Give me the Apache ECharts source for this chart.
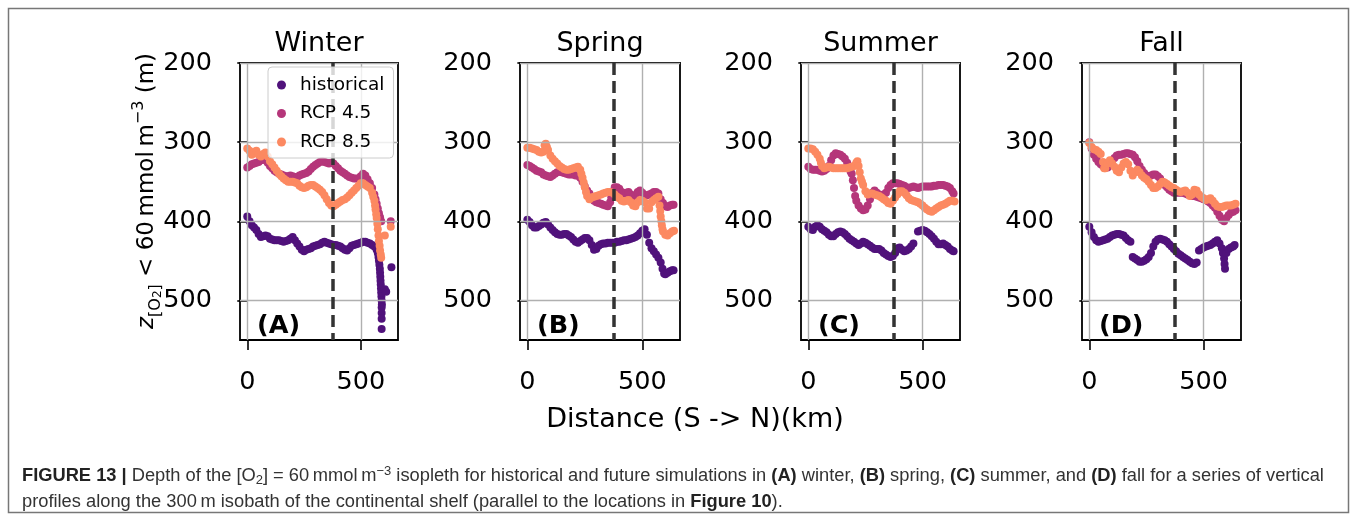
<!DOCTYPE html>
<html>
<head>
<meta charset="utf-8">
<script src="https://cdn.jsdelivr.net/npm/echarts@6/dist/echarts.min.js"></script>
<style>
  html, body { margin: 0; padding: 0; background: #fff; }
  #chart { width: 1357px; height: 521px; }
</style>
</head>
<body>
<div id="chart"></div>
<script>
// Seasons, scenarios and axis ticks
const seasons = ['Winter', 'Spring', 'Summer', 'Fall'];
const panelTags = ['(A)', '(B)', '(C)', '(D)'];
const scenarios = ['historical', 'RCP 4.5', 'RCP 8.5'];
const xTicks = [0, 500];
const yTicks = [200, 300, 400, 500];
const shelfMarkKm = 375;

// Depth (m) of the 60 mmol m-3 O2 isopleth vs. along-shelf distance (km): [distance, depth]
const winterHist = [[0,394],[10,400],[20,405],[30,408],[40,411],[50,416],[60,420],[70,419],[80,418],[90,419],[100,422],[110,423],[120,424],[130,424],[140,424],[150,425],[160,426],[170,425],[180,424],[190,422],[200,420],[210,424],[220,428],[230,432],[240,436],[250,438],[260,436],[270,435],[280,434],[290,432],[300,431],[310,430],[320,429],[330,427],[340,426],[350,427],[360,428],[370,429],[380,430],[390,430],[400,431],[410,432],[420,434],[430,436],[440,437],[450,434],[460,431],[470,430],[480,429],[490,428],[500,427],[510,426],[520,426],[530,427],[540,428],[550,430],[560,432],[570,436],[575,440],[578,445],[580,450],[582,455],[584,460],[585,465],[586,470],[587,475],[588,480],[589,485],[590,490],[591,495],[592,500],[593,505],[592,509],[592,516],[592,523],[592,536],[606,486],[612,489],[635,458]];
const winterRcp45 = [[0,332],[10,330],[20,328],[30,327],[40,326],[50,325],[60,323],[70,322],[80,323],[90,326],[100,330],[110,333],[120,336],[130,338],[140,340],[150,341],[160,342],[170,343],[180,343],[190,342],[200,343],[210,344],[220,344],[230,342],[240,341],[250,340],[260,339],[270,337],[280,334],[290,331],[300,329],[310,327],[320,325],[330,324],[340,325],[350,326],[360,327],[370,326],[380,327],[390,330],[400,333],[410,336],[420,338],[430,340],[440,342],[450,344],[460,345],[470,346],[480,346],[490,346],[500,343],[510,340],[520,342],[530,347],[540,352],[550,358],[560,366],[565,372],[570,378],[575,384],[580,390],[585,395],[590,400],[632,400]];
const winterRcp85 = [[0,308],[10,311],[20,316],[30,313],[40,311],[50,316],[60,318],[70,315],[80,313],[90,318],[100,324],[110,328],[120,332],[130,336],[140,340],[150,343],[160,346],[170,348],[180,350],[190,350],[200,350],[210,351],[220,352],[230,355],[240,357],[250,358],[260,357],[270,355],[280,354],[290,354],[300,356],[310,358],[320,360],[330,363],[340,367],[350,372],[360,377],[370,380],[380,381],[390,379],[400,377],[410,375],[420,373],[430,372],[440,370],[450,367],[460,364],[470,361],[480,358],[490,355],[500,352],[510,352],[520,354],[530,356],[540,358],[550,364],[555,369],[560,374],[563,380],[565,385],[568,391],[570,396],[573,403],[575,410],[578,418],[580,425],[583,431],[585,437],[588,442],[590,446],[606,418],[632,407]];

const springHist = [[0,398],[10,401],[20,405],[30,408],[40,408],[50,406],[60,404],[70,402],[80,401],[90,404],[100,408],[110,411],[120,414],[130,416],[140,417],[150,417],[160,416],[170,416],[180,418],[190,420],[200,423],[210,426],[220,427],[230,425],[240,423],[250,421],[260,421],[270,424],[280,430],[290,436],[300,435],[310,431],[320,429],[330,428],[340,428],[350,427],[360,427],[370,427],[380,427],[390,426],[400,426],[410,425],[420,424],[430,424],[440,423],[450,422],[460,421],[470,420],[480,418],[490,415],[500,412],[510,410],[520,417],[530,427],[540,434],[550,438],[560,442],[570,446],[580,452],[588,460],[595,466],[600,467],[610,465],[620,463],[630,462],[636,462]];
const springRcp45 = [[0,329],[10,330],[20,332],[30,334],[40,336],[50,337],[60,338],[70,341],[80,342],[90,343],[100,344],[110,342],[120,340],[130,338],[140,337],[150,338],[160,339],[170,340],[180,341],[190,341],[200,341],[210,342],[220,342],[230,345],[240,350],[250,356],[260,361],[270,365],[280,370],[290,374],[300,376],[310,377],[320,378],[330,379],[340,380],[350,381],[360,376],[365,370],[370,364],[380,357],[390,357],[400,359],[410,363],[420,365],[430,364],[440,363],[450,366],[460,369],[470,367],[480,363],[490,361],[500,364],[510,367],[520,367],[530,366],[540,365],[550,363],[560,363],[570,365],[580,372],[590,377],[600,381],[610,382],[620,380],[630,379],[636,379]];
const springRcp85 = [[0,307],[10,307],[20,308],[30,309],[40,310],[50,312],[60,313],[70,312],[75,304],[80,302],[85,306],[90,310],[100,317],[110,321],[120,324],[130,327],[140,330],[150,332],[160,334],[170,335],[180,335],[190,334],[200,333],[210,332],[220,331],[230,335],[235,340],[240,345],[245,351],[250,357],[255,363],[260,368],[270,372],[280,370],[290,369],[300,368],[310,367],[320,366],[330,365],[340,364],[350,363],[360,363],[370,364],[380,366],[390,369],[400,371],[410,374],[420,375],[430,374],[440,373],[450,376],[460,380],[470,381],[480,376],[490,373],[500,374],[510,376],[520,384],[530,384],[540,376],[550,373],[560,371],[570,369],[575,380],[578,387],[580,394],[583,400],[585,405],[588,410],[590,413],[600,417],[610,418],[620,415],[630,413],[638,412]];

const summerHist = [[0,407],[10,410],[20,411],[30,407],[40,405],[50,407],[60,410],[70,412],[80,414],[90,417],[100,419],[110,419],[120,416],[130,414],[140,413],[150,414],[160,416],[170,419],[180,422],[190,424],[200,426],[210,428],[220,430],[230,428],[240,426],[250,427],[260,429],[270,431],[280,433],[290,435],[300,435],[310,435],[320,437],[330,440],[340,442],[350,444],[360,445],[370,444],[380,440],[390,434],[400,433],[410,436],[420,438],[430,437],[440,435],[450,432],[460,428],[480,413],[490,412],[500,411],[510,412],[520,414],[530,416],[540,419],[550,422],[560,426],[570,429],[580,429],[590,428],[600,430],[610,432],[620,435],[630,437],[636,438]];
const summerRcp45 = [[0,331],[10,334],[20,335],[30,335],[40,335],[50,336],[60,337],[70,336],[80,334],[90,330],[100,323],[110,317],[120,314],[130,315],[140,316],[150,318],[160,321],[170,326],[180,333],[185,337],[190,340],[195,348],[200,358],[205,368],[210,374],[220,380],[230,384],[240,386],[250,385],[260,380],[270,372],[280,364],[290,361],[300,364],[310,366],[320,367],[330,366],[340,364],[350,358],[360,354],[370,352],[380,352],[390,352],[400,353],[410,354],[420,355],[430,357],[440,358],[450,357],[460,356],[470,357],[480,358],[490,357],[500,356],[510,356],[520,356],[530,356],[540,356],[550,355],[560,355],[570,354],[580,354],[590,354],[600,355],[610,356],[620,358],[630,362],[636,365]];
const summerRcp85 = [[0,308],[10,308],[20,309],[30,312],[40,316],[50,321],[55,326],[60,330],[70,333],[80,332],[90,331],[100,332],[110,333],[120,333],[130,333],[140,333],[150,333],[160,333],[170,333],[180,332],[190,331],[200,330],[210,326],[215,324],[220,330],[225,338],[230,346],[235,350],[240,354],[250,362],[260,366],[270,365],[280,365],[290,366],[300,367],[310,368],[320,370],[330,372],[340,374],[350,377],[360,378],[370,374],[380,370],[390,366],[400,362],[410,362],[420,364],[430,367],[440,371],[450,373],[460,374],[470,375],[480,376],[490,378],[500,380],[510,383],[520,385],[530,387],[540,388],[550,386],[560,384],[570,382],[580,380],[590,379],[600,378],[610,376],[620,374],[630,374],[640,375]];

const fallHist = [[0,407],[10,414],[20,420],[30,424],[40,426],[50,425],[60,424],[70,423],[80,422],[90,420],[100,418],[110,417],[120,416],[130,416],[140,417],[150,418],[160,421],[170,424],[180,426],[190,445],[200,447],[210,449],[220,451],[230,451],[240,450],[250,448],[260,445],[270,440],[280,432],[290,426],[300,423],[310,422],[320,423],[330,424],[340,426],[350,429],[360,432],[370,435],[380,438],[390,441],[400,443],[410,445],[420,447],[430,449],[440,451],[450,453],[460,454],[470,452],[480,437],[490,435],[500,433],[510,432],[520,431],[530,430],[540,428],[550,426],[560,424],[570,428],[580,434],[585,440],[590,447],[592,454],[594,460],[600,440],[610,435],[620,433],[630,432],[636,430]];
const fallRcp45 = [[0,300],[10,308],[20,316],[30,321],[40,325],[50,328],[60,330],[70,331],[80,332],[90,328],[100,324],[110,320],[120,317],[130,316],[140,316],[150,315],[160,314],[170,314],[180,315],[190,316],[200,319],[210,324],[220,330],[230,335],[240,339],[250,342],[260,343],[270,342],[280,341],[290,341],[300,343],[310,346],[320,350],[330,354],[340,357],[350,360],[360,362],[370,364],[380,364],[390,364],[400,364],[410,364],[420,365],[430,366],[440,367],[450,368],[460,368],[470,369],[480,370],[490,371],[500,372],[510,373],[520,375],[530,377],[540,380],[550,383],[560,388],[570,393],[580,398],[590,400],[600,396],[610,392],[620,389],[630,388],[640,386]];
const fallRcp85 = [[0,301],[10,306],[20,309],[30,310],[40,312],[50,315],[60,325],[65,333],[70,333],[80,327],[90,323],[100,327],[110,331],[120,336],[130,338],[140,332],[150,327],[160,325],[170,328],[180,336],[190,342],[200,338],[210,335],[220,338],[230,342],[240,345],[250,347],[260,350],[270,354],[280,358],[290,358],[300,356],[310,353],[320,350],[330,351],[340,353],[350,355],[360,357],[370,358],[380,360],[390,362],[400,363],[410,362],[420,361],[430,364],[440,368],[450,366],[460,360],[470,361],[480,366],[490,369],[500,371],[510,373],[520,372],[530,371],[540,374],[550,378],[560,381],[570,382],[580,382],[590,381],[600,380],[610,380],[620,380],[630,379],[640,378]];

const panelSeries = [
  [winterHist, winterRcp45, winterRcp85],
  [springHist, springRcp45, springRcp85],
  [summerHist, summerRcp45, summerRcp85],
  [fallHist, fallRcp45, fallRcp85]
];

// Styling
const FONT = '"DejaVu Sans", "Liberation Sans", sans-serif';
const CAPTION_FONT = '"Liberation Sans Narrow", "Liberation Sans", "Noto Sans", sans-serif';
const colors = ['#50127b', '#b5367a', '#fc8961'];
const panelLefts = [240, 520, 801, 1082];
const panelWidths = [158, 160, 159, 159];
const panelTop = 63;
const panelHeight = 277;

const grids = [], xAxes = [], yAxes = [], series = [], graphics = [];

panelLefts.forEach((left, i) => {
  grids.push({
    left: left, top: panelTop, width: panelWidths[i], height: panelHeight,
    show: true, borderColor: '#000', borderWidth: 1.8, backgroundColor: 'transparent'
  });
  xAxes.push({
    gridIndex: i, type: 'value', min: -32, max: 664,
    axisLine: { show: false },
    splitLine: { show: false },
    axisTick: { show: true, customValues: xTicks, length: 10, lineStyle: { color: '#000', width: 1.6 } },
    axisLabel: { customValues: xTicks, margin: 29, fontSize: 25.5, fontFamily: FONT, color: '#000' }
  });
  yAxes.push({
    gridIndex: i, type: 'value', inverse: true, min: 200, max: 550,
    axisLine: { show: false },
    splitLine: { show: false },
    axisTick: { show: true, customValues: yTicks, length: 10, lineStyle: { color: '#000', width: 1.6 } },
    axisLabel: { customValues: yTicks, margin: 28, fontSize: 25.5, fontFamily: FONT, color: '#000', padding: [6, 0, 0, 0] }
  });

  // grid lines under the data
  series.push({
    type: 'scatter', xAxisIndex: i, yAxisIndex: i, data: [], silent: true, z: 1,
    markLine: {
      silent: true, animation: false, symbol: ['none', 'none'], label: { show: false },
      lineStyle: { color: '#b0b0b0', width: 1.4, type: 'solid' },
      emphasis: { disabled: true },
      data: xTicks.map(v => ({ xAxis: v })).concat(yTicks.map(v => ({ yAxis: v })))
    }
  });

  panelSeries[i].forEach((data, k) => {
    series.push({
      name: scenarios[k], type: 'scatter', xAxisIndex: i, yAxisIndex: i,
      data: data, symbol: 'circle', symbolSize: 8, z: 2 + k,
      itemStyle: { color: colors[k], opacity: 1 },
      emphasis: { disabled: true }
    });
  });

  // dashed reference line drawn above the data
  series.push({
    type: 'scatter', xAxisIndex: i, yAxisIndex: i, data: [], silent: true, z: 10,
    markLine: {
      silent: true, animation: false, symbol: ['none', 'none'], label: { show: false },
      lineStyle: { color: '#333', width: 3.5, type: [12, 6] },
      emphasis: { disabled: true },
      data: [{ xAxis: shelfMarkKm }]
    }
  });

  const cx = left + panelWidths[i] / 2;
  graphics.push({
    type: 'text', x: cx, y: 44, silent: true,
    style: { text: seasons[i], font: '27px ' + FONT, fill: '#000', align: 'center', verticalAlign: 'middle' }
  });
  graphics.push({
    type: 'text', x: left + 17, y: 326, silent: true, z: 20,
    style: { text: panelTags[i], font: 'bold 25.5px ' + FONT, fill: '#000', align: 'left', verticalAlign: 'middle' }
  });
});

// shared axis titles
graphics.push({
  type: 'text', x: 695, y: 420, silent: true,
  style: { text: 'Distance (S -> N)(km)', font: '27px ' + FONT, fill: '#000', align: 'center', verticalAlign: 'middle' }
});
graphics.push({
  type: 'text', x: 147, y: 191, rotation: Math.PI / 2, silent: true,
  style: {
    text: '{zi|z}{sb|[O}{ss|2}{sb|]}{n| < 60\u2009mmol\u2009m}{sp|\u22123}{n| (m)}',
    align: 'center', verticalAlign: 'middle',
    rich: {
      zi: { fontSize: 23, fontStyle: 'italic', fontFamily: FONT, lineHeight: 33, verticalAlign: 'middle', fill: '#000' },
      n: { fontSize: 23, fontFamily: FONT, lineHeight: 33, verticalAlign: 'middle', fill: '#000' },
      sb: { fontSize: 16, fontFamily: FONT, lineHeight: 18, verticalAlign: 'bottom', fill: '#000' },
      ss: { fontSize: 12, fontFamily: FONT, lineHeight: 13, verticalAlign: 'bottom', fill: '#000' },
      sp: { fontSize: 16, fontFamily: FONT, lineHeight: 16, verticalAlign: 'top', fill: '#000' }
    }
  }
});

// figure caption
const capRich = {
  r: { fontSize: 18.3, fontFamily: CAPTION_FONT, fill: '#333', lineHeight: 22, verticalAlign: 'middle' },
  b: { fontSize: 18.3, fontFamily: CAPTION_FONT, fontWeight: 'bold', fill: '#222', lineHeight: 22, verticalAlign: 'middle' },
  sub: { fontSize: 13, fontFamily: CAPTION_FONT, fill: '#333', lineHeight: 14, verticalAlign: 'bottom' },
  sup: { fontSize: 13, fontFamily: CAPTION_FONT, fill: '#333', lineHeight: 14, verticalAlign: 'top' }
};
graphics.push({
  type: 'text', x: 22, y: 476, silent: true,
  style: {
    text: '{b|FIGURE 13 |}{r| Depth of the [O}{sub|2}{r|] = 60\u2009mmol\u2009m}{sup|\u22123}{r| isopleth for historical and future simulations in }{b|(A)}{r| winter, }{b|(B)}{r| spring, }{b|(C)}{r| summer, and }{b|(D)}{r| fall for a series of vertical}',
    align: 'left', verticalAlign: 'middle', rich: capRich
  }
});
graphics.push({
  type: 'text', x: 22, y: 502, silent: true,
  style: {
    text: '{r|profiles along the 300\u2009m isobath of the continental shelf (parallel to the locations in }{b|Figure 10}{r|).}',
    align: 'left', verticalAlign: 'middle', rich: capRich
  }
});
// outer frame
graphics.push({
  type: 'rect', silent: true, z: -1,
  shape: { x: 8.5, y: 8.5, width: 1340, height: 504 },
  style: { fill: 'none', stroke: '#777', lineWidth: 1.5 }
});

const chart = echarts.init(document.getElementById('chart'), null, { renderer: 'canvas' });
chart.setOption({
  animation: false,
  backgroundColor: '#fff',
  grid: grids,
  xAxis: xAxes,
  yAxis: yAxes,
  legend: {
    data: scenarios,
    orient: 'vertical', left: 268, top: 67,
    icon: 'circle', itemWidth: 9, itemHeight: 9, itemGap: 8.5,
    padding: [8, 9, 6, 9],
    backgroundColor: 'rgba(255,255,255,0.8)', borderColor: '#cccccc', borderWidth: 1, borderRadius: 4,
    selectedMode: false,
    textStyle: { fontSize: 18.5, fontFamily: FONT, color: '#000', lineHeight: 20, padding: [0, 0, 0, 9] },
    z: 15
  },
  series: series,
  graphic: graphics
});
</script>
</body>
</html>
